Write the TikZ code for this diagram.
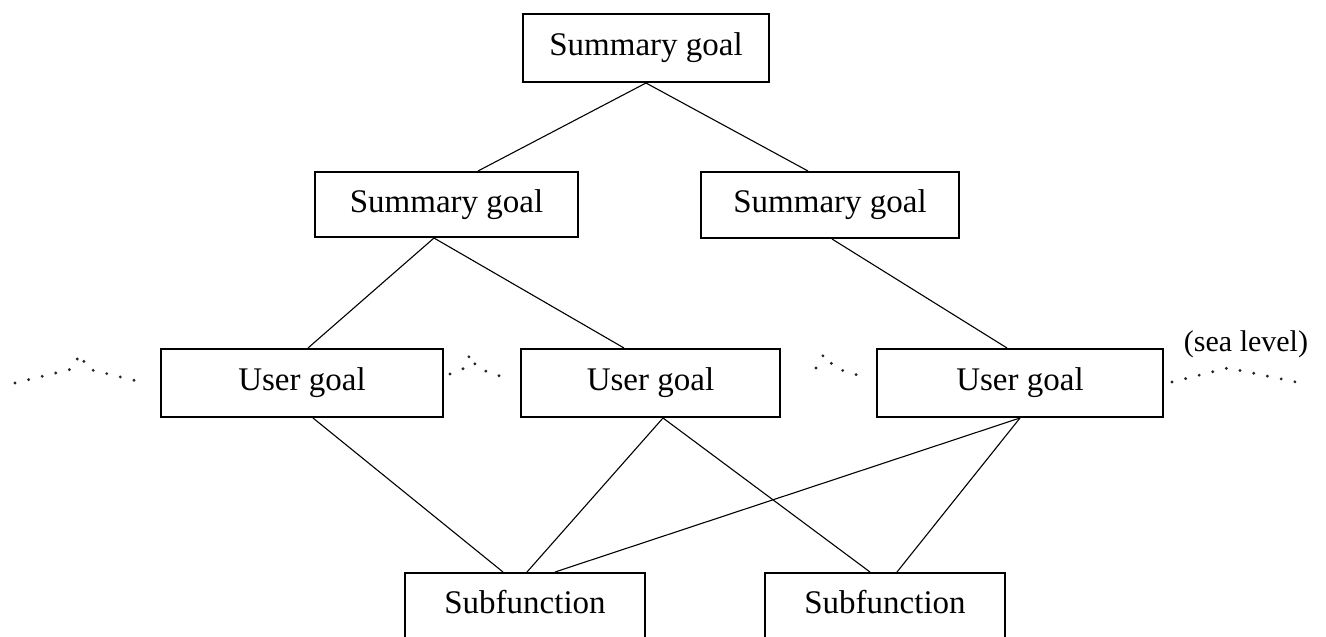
\documentclass[tikz,border=0pt]{standalone}
\usepackage{fontspec}
\setmainfont{Liberation Serif}
\usetikzlibrary{calc}
\begin{document}
\begin{tikzpicture}[x=1pt,y=-1pt,
  box/.style={draw, line width=2pt, rectangle, inner sep=0pt, minimum height=66pt,
              font=\fontsize{33}{36}\selectfont},
  subbox/.style={box, minimum height=68pt, text depth=10pt},
  link/.style={line width=1.1pt},
  dots/.style={line width=3.2pt, line cap=round, dash pattern=on 0pt off 14pt, black!85},
  lbl/.style={inner sep=0pt, font=\fontsize{30}{34}\selectfont}]
\useasboundingbox (0,0) rectangle (1326,637);
\clip (0,0) rectangle (1326,637);

% boxes
\node[box, minimum width=246pt, minimum height=68pt] (top) at (646,48) {Summary goal};
\node[box, minimum width=263pt, minimum height=65pt] (sgA) at (446.5,204.5) {Summary goal};
\node[box, minimum width=258pt] (sgB) at (830,205) {Summary goal};
\node[box, minimum width=282pt, minimum height=68pt] (ugA) at (302,383) {User goal};
\node[box, minimum width=259pt, minimum height=68pt] (ugB) at (650.5,383) {User goal};
\node[box, minimum width=286pt, minimum height=68pt] (ugC) at (1020,383) {User goal};
\node[subbox, minimum width=240pt] (sfA) at (525,607) {Subfunction};
\node[subbox, minimum width=240pt] (sfB) at (885,607) {Subfunction};

\node[lbl] (sea) at (1246,344) {(sea level)};

% connectors
\draw[link] (top.south) -- ([xshift=31.5pt]sgA.north);
\draw[link] (top.south) -- ([xshift=-22pt]sgB.north);
\draw[link] ([xshift=-12.5pt]sgA.south) -- ([xshift=6pt]ugA.north);
\draw[link] ([xshift=-12.5pt]sgA.south) -- ([xshift=-26.5pt]ugB.north);
\draw[link] ([xshift=2pt]sgB.south) -- ([xshift=-13pt]ugC.north);
\draw[link] ([xshift=11pt]ugA.south) -- ([xshift=-22pt]sfA.north);
\draw[link] ([xshift=12.5pt]ugB.south) -- ([xshift=2pt]sfA.north);
\draw[link] ([xshift=12.5pt]ugB.south) -- ([xshift=-15pt]sfB.north);
\draw[link] ([xshift=30pt]sfA.north) -- (ugC.south);
\draw[link] (ugC.south) -- ([xshift=12pt]sfB.north);

% sea-level dotted lines
\draw[dots] (15,383) -- (72,369) -- (80,354) -- (88,369) -- (145,383);
\draw[dots] (450,374) -- (465,368) -- (470,354) -- (477,368) -- (511,380);
\draw[dots] (816,368) -- (824,354) -- (835,368) -- (867,378);
\draw[dots] (1172,382) -- (1228,368) -- (1296,382);
\end{tikzpicture}
\end{document}
